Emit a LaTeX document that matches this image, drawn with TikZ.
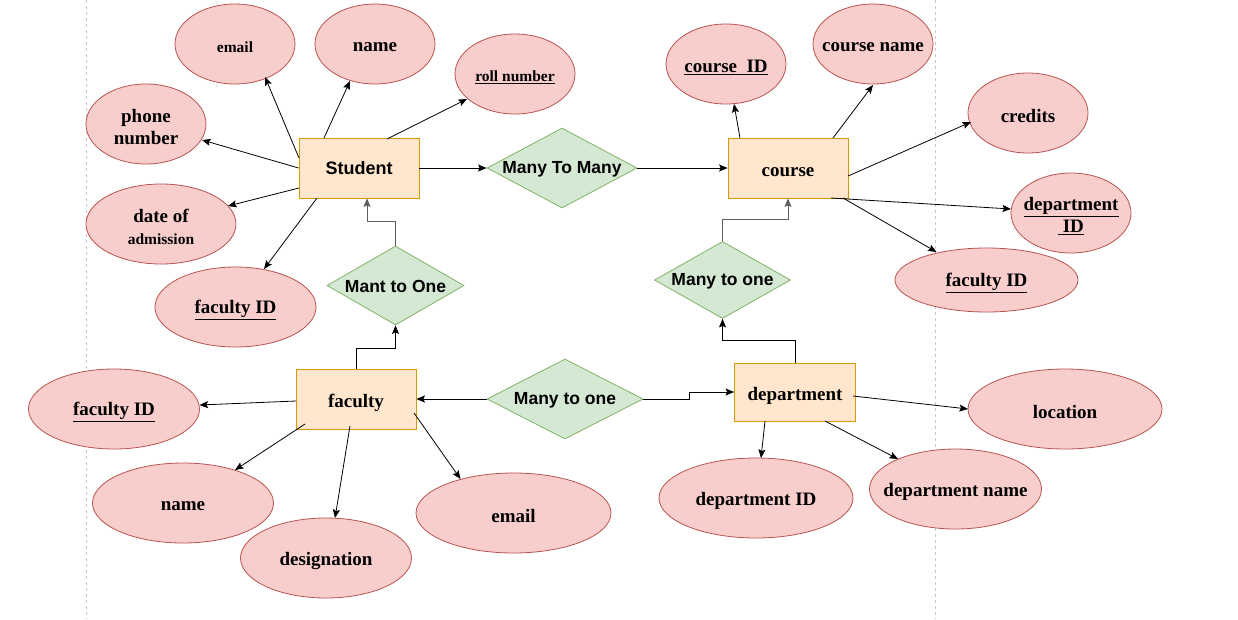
\documentclass[tikz,border=0pt]{standalone}
\usepackage{fontspec}
\setmainfont{Liberation Serif}
\newfontfamily\sansf{Liberation Sans}
\usetikzlibrary{shapes.geometric,arrows.meta,calc}
\definecolor{attrF}{HTML}{F8CECC}
\definecolor{attrD}{HTML}{B85450}
\definecolor{entF}{HTML}{FFE6CC}
\definecolor{entD}{HTML}{D79B00}
\definecolor{relF}{HTML}{D5E8D4}
\definecolor{relD}{HTML}{82B366}
\definecolor{pageline}{HTML}{C8C8C8}
\definecolor{elbowgray}{HTML}{5F5F5F}
\begin{document}
\begin{tikzpicture}[x=1pt,y=-1pt,
  attr/.style={ellipse, draw=attrD, fill=attrF, line width=0.8pt, inner sep=0pt},
  atext/.style={font=\bfseries\fontsize{19}{22}\selectfont, align=center, inner sep=0pt, yshift=-3pt},
  stext/.style={font=\bfseries\fontsize{15.5}{18}\selectfont, align=center, inner sep=0pt, yshift=-3pt},
  ent/.style={rectangle, draw=entD, fill=entF, line width=0.8pt, minimum width=120pt, minimum height=60pt, inner sep=0pt},
  etext/.style={font=\bfseries\fontsize{19}{22}\selectfont, inner sep=0pt, yshift=-4pt},
  sanstext/.style={font=\sansf\bfseries\fontsize{18}{20}\selectfont, inner sep=0pt},
  rel/.style={diamond, draw=relD, fill=relF, line width=0.8pt, inner sep=0pt},
  rtext/.style={font=\sansf\bfseries\fontsize{17.5}{20}\selectfont, inner sep=0pt, yshift=-1.5pt},
  conn/.style={draw=black, line width=0.8pt, -{Stealth[length=8.5pt,width=7pt,inset=1.5pt]}},
  gconn/.style={conn, draw=elbowgray, line width=1pt}]
\useasboundingbox (0,0) rectangle (1238,619);
\fill[white] (0,0) rectangle (1238,619);
% page borders
\draw[pageline, line width=0.6pt, dash pattern=on 3pt off 3pt] (86,0) -- (86,619);
\draw[pageline, line width=0.6pt, dash pattern=on 3pt off 3pt] (935,0) -- (935,619);

% entities
\node[ent, label={[sanstext]center:Student}] (student) at (359,168) {};
\node[ent, label={[etext]center:course}] (course) at (788,168) {};
\node[ent, label={[etext]center:faculty}] (faculty) at (356,399) {};
\node[ent, minimum width=121pt, minimum height=58pt, label={[etext]center:department}] (dept) at (795,392) {};

% relationships
\node[rel, minimum width=150pt, minimum height=80pt, label={[rtext]center:Many To Many}] (mtm) at (562,168) {};
\node[rel, minimum width=137pt, minimum height=79pt, label={[rtext, yshift=1pt]center:Mant to One}] (mto) at (395.5,285.5) {};
\node[rel, minimum width=136pt, minimum height=77pt, label={[rtext]center:Many to one}] (mo1) at (722.5,280) {};
\node[rel, minimum width=156pt, minimum height=80pt, label={[rtext]center:Many to one}] (mo2) at (565,399) {};

% student attributes
\node[attr, minimum width=120pt, minimum height=80pt, label={[stext]center:email}] (semail) at (235,44) {};
\node[attr, minimum width=120pt, minimum height=80pt, label={[atext]center:name}] (sname) at (375,44) {};
\node[attr, minimum width=120pt, minimum height=80pt, label={[stext]center:\underline{roll number}}] (sroll) at (515,74) {};
\node[attr, minimum width=120pt, minimum height=80pt, label={[atext]center:phone\\number}] (sphone) at (146,124) {};
\node[attr, minimum width=150pt, minimum height=80pt, label={[atext]center:date of\\{\fontsize{15.5}{18}\selectfont admission}}] (sdoa) at (161,224) {};
\node[attr, minimum width=161pt, minimum height=80pt, label={[atext]center:\underline{faculty ID}}] (sfid) at (235.5,307) {};

% course attributes
\node[attr, minimum width=120pt, minimum height=80pt, label={[atext]center:\underline{course\hspace{0.5em}ID}}] (cid) at (726,64) {};
\node[attr, minimum width=120pt, minimum height=80pt, label={[atext]center:course name}] (cname) at (873,44) {};
\node[attr, minimum width=120pt, minimum height=80pt, label={[atext]center:credits}] (ccred) at (1028,113) {};
\node[attr, minimum width=120pt, minimum height=80pt, label={[atext]center:\underline{department}\\\underline{\ ID}}] (cdid) at (1071,213) {};
\node[attr, minimum width=183pt, minimum height=64pt, label={[atext]center:\underline{faculty ID}}] (cfid) at (986.5,280) {};

% faculty attributes
\node[attr, minimum width=171pt, minimum height=80pt, label={[atext]center:\underline{faculty ID}}] (ffid) at (114,409) {};
\node[attr, minimum width=181pt, minimum height=80pt, label={[atext]center:name}] (fname) at (183,503) {};
\node[attr, minimum width=171pt, minimum height=80pt, label={[atext]center:designation}] (fdesig) at (326,558) {};
\node[attr, minimum width=195pt, minimum height=80pt, label={[atext]center:email}] (femail) at (513.5,513) {};

% department attributes
\node[attr, minimum width=194pt, minimum height=80pt, label={[atext]center:location}] (dloc) at (1065,409) {};
\node[attr, minimum width=194pt, minimum height=80pt, label={[atext]center:department ID}] (ddid) at (756,498) {};
\node[attr, minimum width=172pt, minimum height=80pt, label={[atext]center:department name}] (dname) at (955.5,489) {};

% student connectors
\draw[conn] ($(student)+(-60,-10)$) -- ($(semail)+(30,33)$);
\draw[conn] ($(student)+(-35,-30)$) -- ($(sname)+(-25,37)$);
\draw[conn] ($(student)+(28,-29)$) -- ($(sroll)+(-48,25)$);
\draw[conn] (student.west) -- ($(sphone)+(56,16)$);
\draw[conn] ($(student)+(-60,20)$) -- ($(sdoa)+(67,-18)$);
\draw[conn] ($(student)+(-42,30)$) -- ($(sfid)+(28.5,-38)$);
\draw[conn] (student.east) -- (mtm.west);
\draw[conn] (mtm.east) -- (course.west);

% course connectors
\draw[conn] ($(course)+(-48,-30)$) -- ($(cid)+(8,40)$);
\draw[conn] ($(course)+(45,-30)$) -- ($(cname)+(0,41)$);
\draw[conn] ($(course)+(60,8)$) -- ($(ccred)+(-57,9)$);
\draw[conn] ($(course)+(43,30)$) -- ($(cdid)+(-60,-4)$);
\draw[conn] ($(course)+(55,30)$) -- ($(cfid)+(-50,-28)$);

% relationship elbows
\draw[gconn] (mto.north) -- ++(0,-24) -| ($(student.south)+(8,0)$);
\draw[conn] (faculty.north) -- ++(0,-20) -| (mto.south);
\draw[gconn] (mo1.north) -- ++(0,-22) -| (course.south);
\draw[conn] (dept.north) -- ++(0,-22) -| (mo1.south);
\draw[conn] (mo2.west) -- (faculty.east);
\draw[conn] (mo2.east) -- ++(46,0) |- (dept.west);

% faculty connectors
\draw[conn] ($(faculty)+(-60,2)$) -- ($(ffid)+(85.5,-4)$);
\draw[conn] ($(faculty)+(-51,25)$) -- ($(fname)+(52,-33)$);
\draw[conn] ($(faculty)+(-6,27)$) -- ($(fdesig)+(9,-40)$);
\draw[conn] ($(faculty)+(58,14)$) -- ($(femail)+(-53,-34)$);

% department connectors
\draw[conn] ($(dept)+(58,4)$) -- ($(dloc)+(-97,0)$);
\draw[conn] ($(dept)+(-30,29)$) -- ($(ddid)+(5,-40)$);
\draw[conn] ($(dept)+(30,29)$) -- ($(dname)+(-57.5,-30)$);
\end{tikzpicture}
\end{document}
